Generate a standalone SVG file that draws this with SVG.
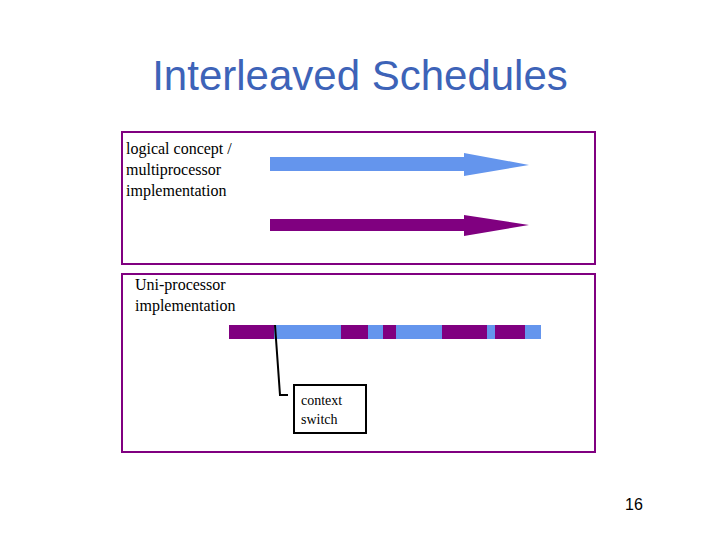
<svg xmlns="http://www.w3.org/2000/svg" width="720" height="540" viewBox="0 0 720 540">
<style>
.t{font-family:'Liberation Serif','DejaVu Serif',serif;font-size:16px;fill:#000}
.frame{fill:none;stroke:#800080;stroke-width:2}
.b{fill:#6495ed}.p{fill:#800080}
</style>
<rect width="720" height="540" fill="#fff"/>
<text x="360" y="90" text-anchor="middle" font-family="'Liberation Sans',sans-serif" font-size="42" fill="#3d63b8">Interleaved Schedules</text>
<g id="top"><rect class="frame" x="122" y="132" width="473" height="132"/>
<text class="t"><tspan x="126" y="154">logical concept /</tspan><tspan x="126" y="175">multiprocessor</tspan><tspan x="126" y="196">implementation</tspan></text></g>
<g id="arrows">
<polygon class="b" points="270,157 464,157 464,153 529,165 464,176 464,171 270,171"/>
<polygon class="p" points="270,219 464,219 464,215 529,225 464,236 464,231 270,231"/>
</g>
<g id="bottom"><rect class="frame" x="122" y="274" width="473" height="178"/>
<text class="t"><tspan x="135" y="290">Uni-processor</tspan><tspan x="135" y="311">implementation</tspan></text></g>
<g id="bar">
<rect class="p" x="229" y="325" width="45" height="14"/>
<rect class="b" x="274" y="325" width="67" height="14"/>
<rect class="p" x="341" y="325" width="27" height="14"/>
<rect class="b" x="368" y="325" width="15" height="14"/>
<rect class="p" x="383" y="325" width="13" height="14"/>
<rect class="b" x="396" y="325" width="46" height="14"/>
<rect class="p" x="442" y="325" width="45" height="14"/>
<rect class="b" x="487" y="325" width="8" height="14"/>
<rect class="p" x="495" y="325" width="30" height="14"/>
<rect class="b" x="525" y="325" width="16" height="14"/>
</g>
<g id="connectors"><polyline points="275,325 280,395 288,395" fill="none" stroke="#000" stroke-width="2"/></g>
<g id="cs"><rect x="294" y="385" width="72" height="48" fill="#fff" stroke="#000" stroke-width="2"/>
<text class="t" font-size="14" style="font-size:14px"><tspan x="301" y="405">context</tspan><tspan x="301" y="424">switch</tspan></text></g>
<text x="634" y="510" text-anchor="middle" font-family="'Liberation Sans',sans-serif" font-size="16">16</text>
</svg>
